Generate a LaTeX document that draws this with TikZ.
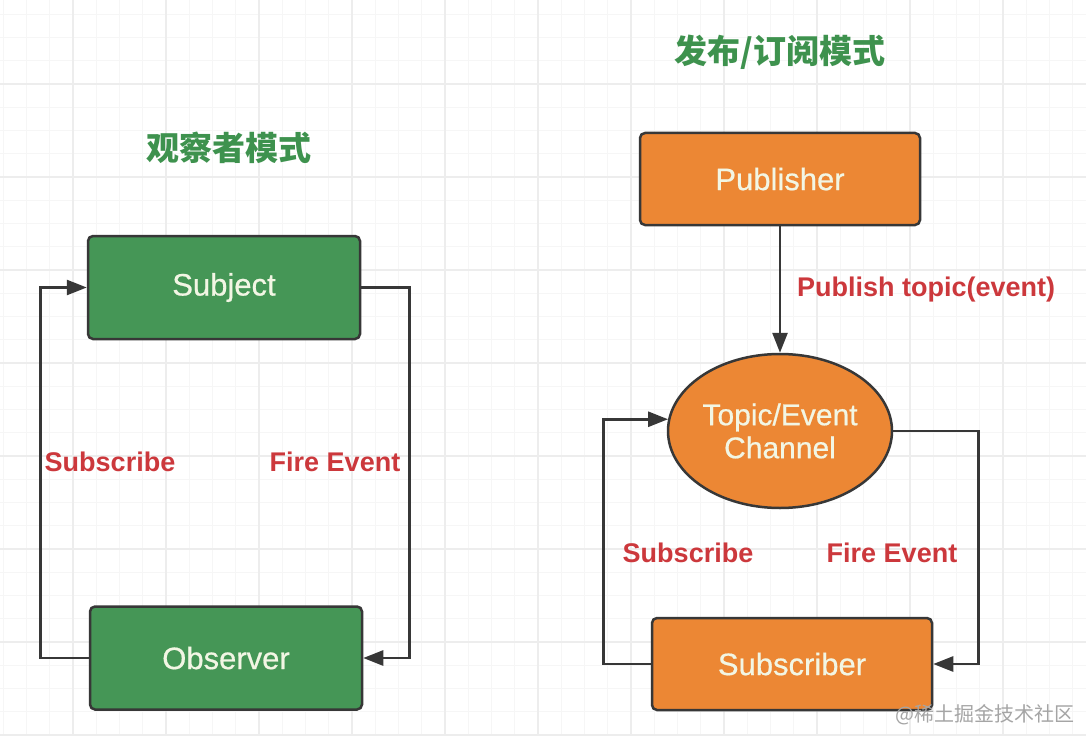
\documentclass[tikz,border=0pt]{standalone}
\usepackage{fontspec}
\setmainfont{Liberation Sans}
\newfontfamily\boxfont{Liberation Sans}[FakeBold=0.6]
\newfontfamily\cjk{Noto Sans CJK SC}
\usetikzlibrary{arrows.meta,shapes.geometric}
\definecolor{gridminor}{RGB}{246,246,246}
\definecolor{gridmajor}{RGB}{237,237,237}
\definecolor{boxgreen}{RGB}{69,150,86}
\definecolor{boxorange}{RGB}{236,135,52}
\definecolor{titlegreen}{RGB}{62,146,78}
\definecolor{labelred}{RGB}{204,56,60}
\definecolor{edgegray}{RGB}{55,55,55}
\definecolor{boxtext}{RGB}{242,246,228}
\definecolor{wmgray}{RGB}{165,165,165}
\tikzset{
  boxnode/.style={draw=edgegray, line width=2.5pt, rounded corners=5pt, text=boxtext,
    font=\boxfont\fontsize{31}{36}\selectfont, inner sep=0pt},
  greenbox/.style={boxnode, fill=boxgreen, minimum width=272pt, minimum height=103pt},
  orangebox/.style={boxnode, fill=boxorange, minimum width=280pt, minimum height=92pt},
  conn/.style={draw=edgegray, line width=2.7pt},
  tip/.style={-{Triangle[length=20pt,width=15pt]}},
  lbl/.style={text=labelred, font=\bfseries\fontsize{27}{32}\selectfont, inner sep=0pt},
  ttl/.style={text=titlegreen, font=\cjk\bfseries\fontsize{33}{38}\selectfont, inner sep=0pt}
}
\begin{document}
\begin{tikzpicture}[x=1pt,y=-1pt]
\useasboundingbox (0,0) rectangle (1086,746);
\fill[white] (0,0) rectangle (1086,746);
% grid
\foreach \i in {0,...,46} {
  \draw[gridminor, line width=1.2pt] ({3.25+23.25*\i},0) -- ({3.25+23.25*\i},736);
}
\foreach \j in {0,...,31} {
  \draw[gridminor, line width=1.2pt] (0,{14.25+23.25*\j}) -- (1086,{14.25+23.25*\j});
}
\foreach \i in {0,...,11} {
  \draw[gridmajor, line width=1.4pt] ({73+93*\i},0) -- ({73+93*\i},736);
}
\foreach \j in {0,...,7} {
  \draw[gridmajor, line width=1.4pt] (0,{84+93*\j}) -- (1086,{84+93*\j});
}
% titles
\node[ttl] (t1) at (229,148) {观察者模式};
\node[ttl] (t2) at (780,52) {发布/订阅模式};
% observer pattern
\node[greenbox] (subj) at (224,287.5) {Subject};
\node[greenbox] (obs) at (226,658) {Observer};
\draw[conn,tip] (obs.west) -- ++(-48,0) |- (subj.west);
\draw[conn,tip] (subj.east) -- ++(48,0) |- (obs.east);
\node[lbl] (l1) at (110,462) {Subscribe};
\node[lbl] (l2) at (335,462) {Fire Event};
% pub/sub pattern
\node[orangebox] (pub) at (780,179) {Publisher};
\node[ellipse, draw=edgegray, line width=2.5pt, fill=boxorange, text=boxtext,
  minimum width=224pt, minimum height=154pt, inner sep=0pt, align=center,
  font=\boxfont\fontsize{30}{33}\selectfont] (chan) at (780,431) {Topic/Event\\Channel};
\node[orangebox] (sub) at (792,664) {Subscriber};
\draw[conn,tip] (pub.south) -- (chan.north);
\node[lbl, anchor=west] (l3) at (797,290) {Publish topic(event)};
\draw[conn,tip] (sub.west) -- ++(-47,0) |- (chan.174);
\draw[conn,tip] (chan.east) -- ++(85,0) |- (sub.east);
\node[lbl] (l4) at (688,553) {Subscribe};
\node[lbl] (l5) at (892,553) {Fire Event};
% watermark
\node[text=wmgray, font=\cjk\fontsize{20}{24}\selectfont, inner sep=0pt] (wm) at (985,715) {@稀土掘金技术社区};
\end{tikzpicture}
\end{document}
